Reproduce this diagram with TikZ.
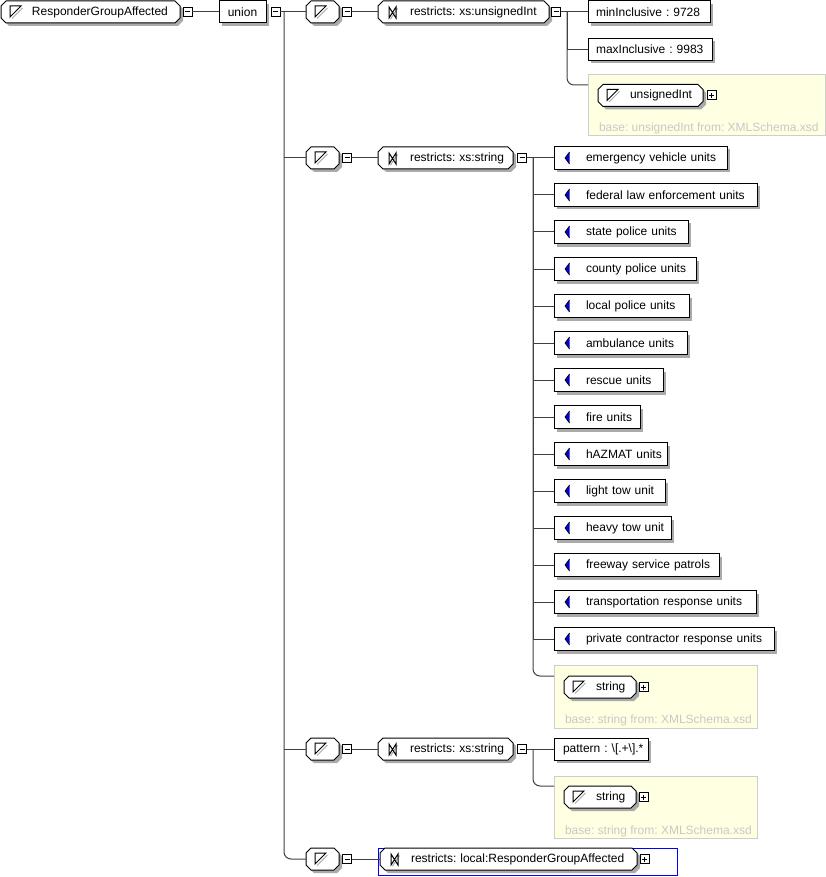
\documentclass[tikz,border=0pt]{standalone}
\usepackage{fontspec}
\setmainfont{Liberation Sans}
\usetikzlibrary{shadows,calc}
\definecolor{shadowc}{RGB}{170,170,170}
\definecolor{connc}{RGB}{64,64,64}
\definecolor{yfill}{RGB}{255,255,226}
\definecolor{yline}{RGB}{206,206,206}
\definecolor{basec}{RGB}{200,200,200}
\definecolor{enumblue}{RGB}{0,0,210}
\definecolor{selblue}{RGB}{0,0,255}

\newcommand\octpath[3]{(#1+5,#2-11) -- (#1+#3-5,#2-11) -- (#1+#3,#2-6) -- (#1+#3,#2+6) -- (#1+#3-5,#2+11) -- (#1+5,#2+11) -- (#1,#2+6) -- (#1,#2-6) -- cycle}
\newcommand\octnode[5]{%
  \fill[shadowc] \octpath{#2+3}{#3+3}{#4};
  \filldraw[draw=black, fill=white] \octpath{#2}{#3}{#4};
  \node[octn, text width=#4pt] (#1) at (#2,#3) {#5};}

\tikzset{
  every node/.style={font=\fontsize{12pt}{14pt}\selectfont\frenchspacing, inner sep=0pt, outer sep=0pt},
  octn/.style={anchor=west, minimum height=22pt, align=left},
  rectn/.style={anchor=west, draw=black, fill=white, minimum height=22pt, align=left,
    drop shadow={shadow xshift=3pt, shadow yshift=-3pt, fill=shadowc, opacity=1}},
  enumn/.style={rectn, minimum height=23pt},
  expbox/.style={draw=black, fill=white, minimum size=9pt},
  minusbox/.style={expbox, path picture={\draw[black]
      ([xshift=-2.5pt]path picture bounding box.center) -- ([xshift=2.5pt]path picture bounding box.center);}},
  plusbox/.style={expbox, path picture={\draw[black]
      ([xshift=-2.5pt]path picture bounding box.center) -- ([xshift=2.5pt]path picture bounding box.center)
      ([yshift=-2.5pt]path picture bounding box.center) -- ([yshift=2.5pt]path picture bounding box.center);}},
  conn/.style={draw=connc},
  ybox/.style={draw=yline, fill=yfill, anchor=north west},
  basetext/.style={text=basec, anchor=west},
  selbox/.style={draw=selblue, anchor=north west},
  simpleicon/.pic={\draw[shadowc] (11,6.5) -- (21.5,-4); \draw[black] (9,5) -- (9,-6) -- (20,-6) -- cycle;},
  restricticon/.pic={\draw[shadowc] (12.5,7) -- (19.5,-3.5); \draw[black] (11,-5) -- (11,6) -- (18,-5) -- (18,6) -- cycle;},
  enumicon/.pic={\fill[enumblue] (11,0) -- (15.5,-6) -- (15.5,6) -- cycle; \draw[black, line width=0.7pt] (15.5,-6) -- (11,0) -- (15.5,6);},
}

\begin{document}
\begin{tikzpicture}[x=1pt, y=-1pt, line width=1pt]
\useasboundingbox (0,0) rectangle (826,877);

% root and union
\octnode{root}{1}{12}{179}{\hspace*{31pt}ResponderGroupAffected}
\pic at (root.west) {simpleicon};
\node[minusbox] (rootm) at (187.5,12) {};
\node[rectn, text width=47pt, align=center] (union) at (219,12) {union};
\node[minusbox] (unionm) at (275.5,12) {};
\coordinate (trunk) at (284,12);

% branch 1
\octnode{b1}{306}{12}{33}{}
\pic at (b1.west) {simpleicon};
\node[minusbox] (b1m) at (347,12) {};
\octnode{r1}{378}{12}{171}{\hspace*{32pt}restricts: xs:unsignedInt}
\pic at (r1.west) {restricticon};
\node[minusbox] (r1m) at (556,12) {};
\coordinate (r1fork) at (567,12);
\node[rectn, text width=122pt] (f1) at (588,12) {\hspace*{8pt}minInclusive : 9728};
\node[rectn, text width=124pt] (f2) at (588,49.5) {\hspace*{8pt}maxInclusive : 9983};
\node[ybox, minimum width=237pt, minimum height=61pt] (y1) at (588,75) {};
\octnode{t1}{598}{95.5}{105}{\hspace*{32pt}unsignedInt}
\pic at (t1.west) {simpleicon};
\node[plusbox] (t1p) at (711.5,95.5) {};
\node[basetext] (y1b) at (599,128) {base: unsignedInt from: XMLSchema.xsd};

% branch 2
\octnode{b2}{306}{158}{33}{}
\pic at (b2.west) {simpleicon};
\node[minusbox] (b2m) at (347,158) {};
\octnode{r2}{378}{158}{135}{\hspace*{32pt}restricts: xs:string}
\pic at (r2.west) {restricticon};
\node[minusbox] (r2m) at (522,158) {};
\coordinate (r2fork) at (533,158);
\foreach \t/\r [count=\k from 0] in {
  emergency vehicle units/727, federal law enforcement units/757,
  state police units/688, county police units/696, local police units/689,
  ambulance units/687, rescue units/663, fire units/640, hAZMAT units/667,
  light tow unit/665, heavy tow unit/671, freeway service patrols/719,
  transportation response units/756, private contractor response units/774} {
  \pgfmathsetmacro\w{\r-554}
  \pgfmathsetmacro\yy{158+37*\k}
  \node[enumn, text width=\w pt] (e\k) at (554,\yy) {\hspace*{32pt}\t};
  \pic at (e\k.west) {enumicon};
  \draw[conn] (r2fork) |- (e\k.west);
}
\node[ybox, minimum width=203pt, minimum height=63pt] (y2) at (554,665) {};
\octnode{t2}{564}{687}{72}{\hspace*{32pt}string}
\pic at (t2.west) {simpleicon};
\node[plusbox] (t2p) at (643.5,687) {};
\node[basetext] (y2b) at (565,720) {base: string from: XMLSchema.xsd};

% branch 3
\octnode{b3}{306}{749}{33}{}
\pic at (b3.west) {simpleicon};
\node[minusbox] (b3m) at (347,749) {};
\octnode{r3}{378}{749}{135}{\hspace*{32pt}restricts: xs:string}
\pic at (r3.west) {restricticon};
\node[minusbox] (r3m) at (522,749) {};
\coordinate (r3fork) at (533,749);
\node[rectn, text width=94pt] (pat) at (554,749) {\hspace*{9pt}pattern : \textbackslash[.+\textbackslash].*};
\node[ybox, minimum width=203pt, minimum height=62pt] (y3) at (554,776) {};
\octnode{t3}{564}{797}{72}{\hspace*{32pt}string}
\pic at (t3.west) {simpleicon};
\node[plusbox] (t3p) at (643.5,797) {};
\node[basetext] (y3b) at (565,831) {base: string from: XMLSchema.xsd};

% branch 4
\octnode{b4}{306}{859}{33}{}
\pic at (b4.west) {simpleicon};
\node[minusbox] (b4m) at (347,859) {};
\node[selbox, minimum width=299pt, minimum height=27pt] (r4sel) at (378,848) {};
\octnode{r4}{380}{859}{257}{\hspace*{31pt}restricts: local:ResponderGroupAffected}
\pic at (r4.west) {restricticon};
\node[plusbox] (r4p) at (644.5,859) {};

% connectors
\draw[conn] (rootm.east) -- (union.west);
\draw[conn] (unionm.east) -- (b1.west);
\draw[conn, rounded corners=7pt] (trunk) |- (b4.west);
\draw[conn] (trunk |- b2.west) -- (b2.west);
\draw[conn] (trunk |- b3.west) -- (b3.west);
\draw[conn] (b1m.east) -- (r1.west);
\draw[conn] (b2m.east) -- (r2.west);
\draw[conn] (b3m.east) -- (r3.west);
\draw[conn] (b4m.east) -- (r4.west);
\draw[conn] (r1m.east) -- (f1.west);
\draw[conn] (r1fork) |- (f2.west);
\draw[conn, rounded corners=7pt] (r1fork) |- ([yshift=-10pt]y1.north west);
\draw[conn] (r2m.east) -- (r2fork);
\draw[conn, rounded corners=7pt] (r2fork) |- ([yshift=-11pt]y2.north west);
\draw[conn] (r3m.east) -- (pat.west);
\draw[conn, rounded corners=7pt] (r3fork) |- ([yshift=-10pt]y3.north west);
\end{tikzpicture}
\end{document}
